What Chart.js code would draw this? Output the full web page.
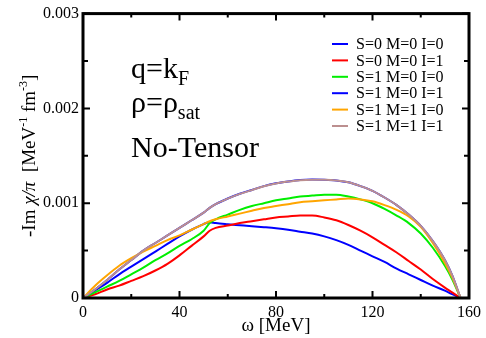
<!DOCTYPE html>
<html>
<head>
<meta charset="utf-8">
<script src="https://cdn.jsdelivr.net/npm/chart.js@4.4.0/dist/chart.umd.min.js"></script>
<style>
  html, body { margin: 0; padding: 0; background: #fff; }
  #wrap { width: 486px; height: 338px; position: relative; }
</style>
</head>
<body>
<div id="wrap"><canvas id="chart"></canvas></div>
<script>
// === Data ===
const omega = [0, 5, 10, 15, 20, 25, 30, 35, 40, 45, 50, 52.5, 55, 60, 65, 70, 75, 80, 85, 90,
  95, 100, 105, 110, 115, 120, 125, 130, 135, 140, 145, 150, 153, 156.5];

const s0m0i0 = [0, 0.00008, 0.00016, 0.00025, 0.00033, 0.00041, 0.00049, 0.00057, 0.00065, 0.00072,
  0.00078, 0.0008, 0.00079, 0.000778, 0.000768, 0.000758, 0.000747, 0.000735, 0.00072, 0.0007,
  0.00068, 0.00065, 0.00061, 0.00056, 0.0005, 0.00044, 0.00038, 0.00031, 0.00025, 0.00019,
  0.00013, 0.000078, 0.00004, 0];
const s0m0i1 = [0, 0.00004, 0.00009, 0.00013, 0.00018, 0.00023, 0.00029, 0.00036, 0.00045, 0.00055,
  0.00065, 0.00071, 0.00074, 0.000765, 0.00079, 0.00081, 0.00083, 0.00085, 0.00086, 0.00087,
  0.00087, 0.00085, 0.00082, 0.00077, 0.00071, 0.00064, 0.00056, 0.00048, 0.00039, 0.0003,
  0.0002, 0.00011, 0.00006, 0];
const s1m0i0 = [0, 0.00006, 0.00012, 0.00018, 0.00025, 0.00032, 0.0004, 0.00047, 0.00055, 0.00062,
  0.00071, 0.00079, 0.00083, 0.00088, 0.00093, 0.00097, 0.001, 0.00103, 0.00105, 0.00107,
  0.00108, 0.00109, 0.00109, 0.00107, 0.00104, 0.001, 0.00094, 0.00087, 0.00079, 0.00068,
  0.00053, 0.00034, 0.0002, 0];
const s1m0i1 = [0, 0.00009, 0.00019, 0.0003, 0.0004, 0.0005, 0.00058, 0.00066, 0.00074, 0.00082,
  0.0009, 0.00095, 0.00099, 0.00105, 0.0011, 0.00114, 0.00118, 0.00121, 0.00123, 0.001245,
  0.00125, 0.001248, 0.00124, 0.00122, 0.00118, 0.00113, 0.00106, 0.00098, 0.00088, 0.00076,
  0.0006, 0.0004, 0.00024, 0];
const s1m1i0 = [0, 0.00013, 0.00024, 0.00034, 0.00042, 0.00049, 0.00055, 0.00061, 0.00066, 0.00072,
  0.00078, 0.00081, 0.00083, 0.00086, 0.00089, 0.00092, 0.00095, 0.00097, 0.00099, 0.00101,
  0.00102, 0.00103, 0.00104, 0.00105, 0.00104, 0.00102, 0.00098, 0.00093, 0.00086, 0.00075,
  0.00058, 0.00037, 0.00022, 0];
const s1m1i1 = [0, 0.00009, 0.00019, 0.0003, 0.0004, 0.0005, 0.00058, 0.00066, 0.00074, 0.00082,
  0.0009, 0.00095, 0.00099, 0.001048, 0.001098, 0.001138, 0.001178, 0.001208, 0.001228, 0.001243,
  0.001248, 0.001247, 0.00124, 0.00122, 0.00118, 0.00113, 0.00106, 0.00098, 0.00088, 0.00076,
  0.0006, 0.0004, 0.00024, 0];

const seriesLabels = ['S=0 M=0 I=0', 'S=0 M=0 I=1', 'S=1 M=0 I=0', 'S=1 M=0 I=1', 'S=1 M=1 I=0', 'S=1 M=1 I=1'];
const seriesValues = [s0m0i0, s0m0i1, s1m0i0, s1m0i1, s1m1i0, s1m1i1];
const seriesColors = ['#0000ff', '#ff0000', '#00ee00', '#0000ff', '#ffa500', '#bc8f8f'];

const xTicks = [0, 40, 80, 120, 160];
const yTicks = [0, 0.001, 0.002, 0.003];

const SERIF = '"Liberation Serif", "DejaVu Serif", serif';

// === Helpers ===
function drawRuns(ctx, x, y, runs) {
  // runs: [text, size, dy, italic]
  let cx = x;
  runs.forEach(([t, size, dy, it]) => {
    ctx.font = (it ? 'italic ' : '') + size + 'px ' + SERIF;
    ctx.fillText(t, cx, y + dy);
    cx += ctx.measureText(t).width;
  });
  return cx - x;
}
function runsWidth(ctx, runs) {
  let w = 0;
  runs.forEach(([t, size, dy, it]) => {
    ctx.font = (it ? 'italic ' : '') + size + 'px ' + SERIF;
    w += ctx.measureText(t).width;
  });
  return w;
}

// === Frame, inward ticks, legend, labels ===
const decorPlugin = {
  id: 'decor',
  afterDraw(chart) {
    const ctx = chart.ctx;
    const a = chart.chartArea;
    const xs = chart.scales.x, ys = chart.scales.y;
    ctx.save();
    ctx.strokeStyle = '#000';
    ctx.fillStyle = '#000';

    // ticks
    ctx.lineWidth = 2;
    for (let v = 0; v <= 160; v += 20) {
      const px = xs.getPixelForValue(v);
      const len = v % 40 === 0 ? 7 : 4;
      ctx.beginPath();
      ctx.moveTo(px, a.bottom); ctx.lineTo(px, a.bottom - len);
      ctx.moveTo(px, a.top); ctx.lineTo(px, a.top + len);
      ctx.stroke();
    }
    for (let k = 0; k <= 6; k++) {
      const py = ys.getPixelForValue(k * 0.0005);
      const len = k % 2 === 0 ? 7 : 5;
      ctx.beginPath();
      ctx.moveTo(a.left, py); ctx.lineTo(a.left + len, py);
      ctx.moveTo(a.right, py); ctx.lineTo(a.right - len, py);
      ctx.stroke();
    }

    // frame
    ctx.lineWidth = 3;
    ctx.strokeRect(a.left, a.top, a.right - a.left, a.bottom - a.top);

    // legend
    ctx.textBaseline = 'middle';
    ctx.textAlign = 'left';
    seriesLabels.forEach((lab, i) => {
      const y = 44 + i * 16.4;
      ctx.strokeStyle = seriesColors[i];
      ctx.lineWidth = 2;
      ctx.beginPath(); ctx.moveTo(332, y); ctx.lineTo(348, y); ctx.stroke();
      ctx.font = '16px ' + SERIF;
      ctx.fillText(lab, 356, y + 1);
    });

    // annotation
    ctx.textBaseline = 'alphabetic';
    drawRuns(ctx, 131, 78, [['q=k', 30, 0], ['F', 20, 7]]);
    drawRuns(ctx, 131, 112, [['\u03c1=\u03c1', 30, 0], ['sat', 20, 7]]);
    drawRuns(ctx, 131, 157, [['No-Tensor', 30, 0]]);

    // x title
    ctx.font = '19px ' + SERIF;
    ctx.textAlign = 'center';
    ctx.fillText('\u03c9 [MeV]', (a.left + a.right) / 2, 331);

    // y title
    const yRuns = [['-Im ', 19, 0], ['\u03c7/\u03c0', 19, 0, true], ['  [MeV', 19, 0], ['-1', 12, -8],
      [' fm', 19, 0], ['-3', 12, -8], [']', 19, 0]];
    ctx.textAlign = 'left';
    ctx.translate(35, (a.top + a.bottom) / 2);
    ctx.rotate(-Math.PI / 2);
    const w = runsWidth(ctx, yRuns);
    drawRuns(ctx, -w / 2, 0, yRuns);
    ctx.restore();
  }
};

// === Chart ===
const datasets = seriesLabels.map((lab, i) => ({
  label: lab,
  data: omega.map((x, j) => ({ x: x, y: seriesValues[i][j] })),
  borderColor: seriesColors[i],
  borderWidth: 2,
  pointRadius: 0,
  fill: false,
  showLine: true,
  cubicInterpolationMode: 'monotone',
  order: seriesLabels.length - i
}));

const ctx = document.getElementById('chart').getContext('2d');
const chart = new Chart(ctx, {
  type: 'scatter',
  data: { datasets: datasets },
  options: {
    responsive: true,
    maintainAspectRatio: false,
    animation: false,
    layout: { padding: { left: 0, right: 16, top: 13, bottom: 0 } },
    plugins: { legend: { display: false }, tooltip: { enabled: false } },
    scales: {
      x: {
        type: 'linear', min: 0, max: 160,
        afterFit: (s) => { s.height = 40; },
        grid: { display: false, drawTicks: false },
        border: { display: false },
        ticks: {
          stepSize: 20, autoSkip: false, maxRotation: 0, padding: 5,
          color: '#000', font: { family: SERIF, size: 16 },
          callback: (v) => xTicks.includes(v) ? String(v) : ''
        }
      },
      y: {
        type: 'linear', min: 0, max: 0.003,
        afterFit: (s) => { s.width = 83; },
        grid: { display: false, drawTicks: false },
        border: { display: false },
        ticks: {
          stepSize: 0.0005, autoSkip: false, padding: 4,
          color: '#000', font: { family: SERIF, size: 16 },
          callback: (v) => {
            const k = Math.round(v / 0.0005);
            if (k % 2) return '';
            return k === 0 ? '0' : yTicks[k / 2].toFixed(3);
          }
        }
      }
    }
  },
  plugins: [decorPlugin]
});
</script>
</body>
</html>
